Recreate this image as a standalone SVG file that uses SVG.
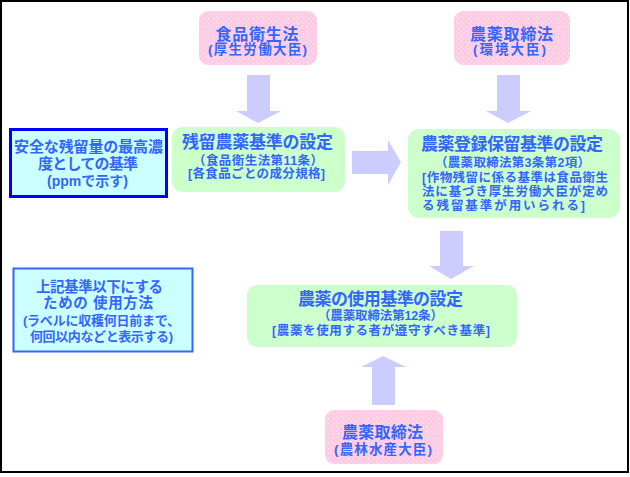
<svg xmlns="http://www.w3.org/2000/svg" width="630" height="477" viewBox="0 0 630 477">
<defs>
<pattern id="pk" width="5" height="5" patternUnits="userSpaceOnUse">
<rect width="5" height="5" fill="#ffcce8"/>
<rect x="1" y="1" width="1" height="1" fill="#ffeecc"/>
<rect x="3" y="3" width="1" height="1" fill="#fff0f8"/>
</pattern>
<style>
.t{font-family:"Liberation Sans","Noto Sans CJK JP",sans-serif;fill:#3366ff;text-anchor:middle;font-weight:bold}
.pink{fill:url(#pk)}
.green{fill:#ccffcc}
.arr{fill:#ccccff}
</style>
</defs>
<rect width="630" height="477" fill="#ffffff"/>
<rect x="1" y="1" width="627" height="471" fill="none" stroke="#000" stroke-width="2"/>

<g id="connectors">
<polygon class="arr" points="247,75 270,75 270,111 281,111 258,123 236,111 247,111"/>
<polygon class="arr" points="497,75 520,75 520,111 531,111 508,123 486,111 497,111"/>
<polygon class="arr" points="352,151 388,151 388,140 401,162 388,185 388,174 352,174"/>
<polygon class="arr" points="440,231 463,231 463,266 474,266 451,279 429,266 440,266"/>
<polygon class="arr" points="372,405 395,405 395,367 406,367 383,356 361,367 372,367"/>
</g>

<g id="node-shokuhin">
<rect class="pink" x="199" y="11" width="118" height="54" rx="9"/>
<text class="t" x="257" y="39.5" font-size="16" textLength="83" lengthAdjust="spacing">食品衛生法</text>
<text class="t" x="257.5" y="54" font-size="13.5" textLength="99" lengthAdjust="spacing">(厚生労働大臣)</text>
</g>

<g id="node-kankyo">
<rect class="pink" x="454" y="11" width="116" height="54" rx="9"/>
<text class="t" x="511.5" y="39.5" font-size="16" textLength="83" lengthAdjust="spacing">農薬取締法</text>
<text class="t" x="509.5" y="54" font-size="13.5" textLength="73" lengthAdjust="spacing">(環境大臣)</text>
</g>

<g id="box-anzen">
<rect x="10.5" y="129.5" width="156" height="67" fill="#ccffff" stroke="#0000ff" stroke-width="3"/>
<text class="t" x="88.5" y="151.7" font-size="15" font-weight="normal" textLength="149" lengthAdjust="spacing">安全な残留量の最高濃</text>
<text class="t" x="88" y="168.5" font-size="15" font-weight="normal" textLength="100" lengthAdjust="spacing">度としての基準</text>
<text class="t" x="87.5" y="186" font-size="14" font-weight="normal" textLength="81" lengthAdjust="spacing">(ppmで示す)</text>
</g>

<g id="node-zanryu">
<rect class="green" x="172" y="127" width="173" height="65" rx="10"/>
<text class="t" x="257.5" y="148.2" font-size="17" textLength="151" lengthAdjust="spacing">残留農薬基準の設定</text>
<text class="t" x="258" y="165" font-size="12.5" textLength="130" lengthAdjust="spacing">（食品衛生法第11条）</text>
<text class="t" x="256.5" y="178.3" font-size="12.5" textLength="137" lengthAdjust="spacing">[各食品ごとの成分規格]</text>
</g>

<g id="node-toroku">
<rect class="green" x="408" y="129" width="212" height="89" rx="11"/>
<text class="t" x="512" y="149.8" font-size="17" textLength="182" lengthAdjust="spacing">農薬登録保留基準の設定</text>
<text class="t" x="512.5" y="166.6" font-size="12.5" textLength="155" lengthAdjust="spacing">（農薬取締法第3条第2項）</text>
<text class="t" x="515" y="181.6" font-size="12.5" textLength="186" lengthAdjust="spacing">[作物残留に係る基準は食品衛生</text>
<text class="t" x="515" y="195.6" font-size="12.5" textLength="186" lengthAdjust="spacing">法に基づき厚生労働大臣が定め</text>
<text class="t" x="503.5" y="210" font-size="12.5" textLength="163" lengthAdjust="spacing">る残留基準が用いられる]</text>
</g>

<g id="box-shiyo">
<rect x="13.5" y="268.5" width="179" height="83" fill="#ccffff" stroke="#3366ff" stroke-width="2"/>
<text class="t" x="99.5" y="291.5" font-size="14.5" font-weight="normal" textLength="127" lengthAdjust="spacing">上記基準以下にする</text>
<text class="t" x="98" y="308.2" font-size="14.5" font-weight="normal" textLength="110" lengthAdjust="spacing">ための 使用方法</text>
<text class="t" x="101.5" y="325" font-size="13" font-weight="normal" textLength="157" lengthAdjust="spacing">(ラベルに収穫何日前まで、</text>
<text class="t" x="101.5" y="341" font-size="13" font-weight="normal" textLength="143" lengthAdjust="spacing">何回以内などと表示する)</text>
</g>

<g id="node-shiyokijun">
<rect class="green" x="247" y="285" width="270" height="62" rx="10"/>
<text class="t" x="380.5" y="304.8" font-size="17" textLength="165" lengthAdjust="spacing">農薬の使用基準の設定</text>
<text class="t" x="380.5" y="320" font-size="12.5" textLength="125" lengthAdjust="spacing">（農薬取締法第12条）</text>
<text class="t" x="381" y="335" font-size="12.5" textLength="218" lengthAdjust="spacing">[農薬を使用する者が遵守すべき基準]</text>
</g>

<g id="node-norin">
<rect class="pink" x="325" y="410" width="118" height="54" rx="9"/>
<text class="t" x="382.5" y="438" font-size="16" textLength="81" lengthAdjust="spacing">農薬取締法</text>
<text class="t" x="383" y="454" font-size="13.5" textLength="98" lengthAdjust="spacing">(農林水産大臣)</text>
</g>
</svg>
